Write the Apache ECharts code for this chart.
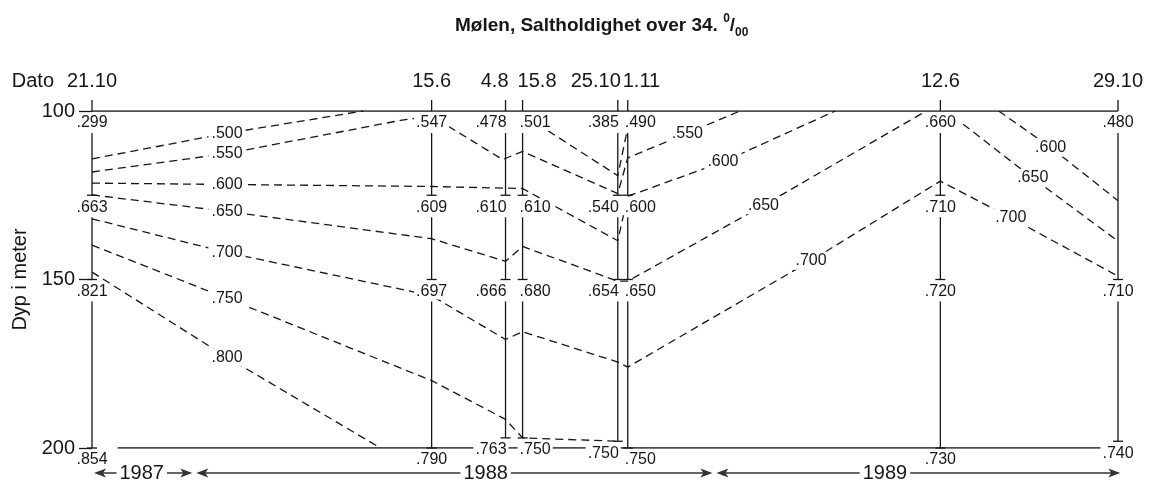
<!DOCTYPE html>
<html><head><meta charset="utf-8">
<script src="https://cdn.jsdelivr.net/npm/echarts@6/dist/echarts.min.js"></script>
<style>html,body{margin:0;padding:0;background:#fff}#c{width:1149px;height:488px}</style>
</head><body><div id="c"></div>
<script>
// ---- DATA ----
// Sampling dates and their position along the drawn time axis (days after 21.10.1987, as drawn)
const stationDates = ['21.10', '15.6', '4.8', '15.8', '25.10', '1.11', '12.6', '29.10'];
const stationPos   = [0, 239, 291, 303, 370, 377, 597, 722];
// Sampling depths (m) at each date
const stationDepths = [
  [100, 125, 150, 200],
  [100, 125, 150, 200],
  [100, 125, 150, 197],
  [100, 125, 150, 197],
  [100, 125, 150, 198],
  [100, 125, 150, 200],
  [100, 125, 150, 200],
  [100, 150, 198]
];
// Salinity above 34 per mille at those depths
const stationValues = [
  [0.299, 0.663, 0.821, 0.854],
  [0.547, 0.609, 0.697, 0.790],
  [0.478, 0.610, 0.666, 0.763],
  [0.501, 0.610, 0.680, 0.750],
  [0.385, 0.540, 0.654, 0.750],
  [0.490, 0.600, 0.650, 0.750],
  [0.660, 0.710, 0.720, 0.730],
  [0.480, 0.710, 0.740]
];
// Isolines [time position, depth]
const iso500a = [[0,114.2],[95,106.6],[191,100]];
const iso500b = [[321,105.9],[370,119.2],[377,105]];
const iso550  = [[0,118.1],[95,112.6],[217,102.8],[239,101.5],[289,114.4],[303,112],[370,124.5],[377,113.9],[419,106.6],[456,100]];
const iso600a = [[0,121.4],[95,121.8],[239,122.4],[291,122.9],[303,123],[370,138.5],[377,125.3],[444,115.1],[523,100]];
const iso600b = [[638,100],[674.6,110.8],[722,126.6]];
const iso650a = [[0,124.9],[95,129.8],[239,137.9],[291,144.6],[303,140.2],[370,150.5],[377,150.5],[472.5,128],[587,100]];
const iso650b = [[613,103.9],[662,119.9],[722,138.6]];
const iso700  = [[0,132],[95,142],[239,154.8],[291,167.8],[303,165.5],[370,174.5],[377,176],[506,144.4],[597,120.8],[646.5,131.7],[722,149]];
const iso750  = [[0,139.8],[95,155.6],[239,180],[291,191.5],[303,197],[370,198]];
const iso800  = [[0,147.8],[95,173.1],[203,200]];
// which vertices carry the isoline's label
const isolines = [
  {value: 0.500, points: iso500a, labelAt: [1]},
  {value: 0.500, points: iso500b, labelAt: []},
  {value: 0.550, points: iso550,  labelAt: [1, 8]},
  {value: 0.600, points: iso600a, labelAt: [1, 7]},
  {value: 0.600, points: iso600b, labelAt: [1]},
  {value: 0.650, points: iso650a, labelAt: [1, 7]},
  {value: 0.650, points: iso650b, labelAt: [1]},
  {value: 0.700, points: iso700,  labelAt: [1, 7, 9]},
  {value: 0.750, points: iso750,  labelAt: [1]},
  {value: 0.800, points: iso800,  labelAt: [1]}
];
// Year spans along the time axis
const years = ['1987', '1988', '1989'];
const yearBounds = [0, 72, 438, 725];
const yearLabelPos = [35, 277, 558];
const bottomLineSpan = [18, 715];
const depthTicks = [100, 150, 200];

// ---- STYLE ----
const INK = '#161616';
const FONT = '"Liberation Sans", Arial, Helvetica, sans-serif';
const fmt = v => v.toFixed(3).replace(/^0/, '');

const chart = echarts.init(document.getElementById('c'), null, {renderer: 'canvas'});

const series = [];
isolines.forEach(l => {
  series.push({
    type: 'line', data: l.points, symbol: 'none', silent: true, z: 2,
    lineStyle: {color: INK, width: 1.3, type: [8, 5]}
  });
});
// frame lines (depth 100 and 200)
series.push({type: 'line', data: [[stationPos[0], 100], [stationPos[stationPos.length - 1], 100]], symbol: 'none', z: 3,
  lineStyle: {color: INK, width: 1.4}});
series.push({type: 'line', data: [[bottomLineSpan[0], 200], [bottomLineSpan[1], 200]], symbol: 'none', z: 3,
  lineStyle: {color: INK, width: 1.4}});

// isoline labels
const isoLabelData = [];
isolines.forEach(l => l.labelAt.forEach(i => isoLabelData.push([l.points[i][0], l.points[i][1], l.value])));
series.push({
  type: 'custom', z: 6, data: isoLabelData,
  renderItem: (p, api) => {
    const c = api.coord([api.value(0), api.value(1)]);
    return {type: 'text', style: {text: fmt(api.value(2)), x: c[0], y: c[1], align: 'center', verticalAlign: 'middle',
      font: '16px ' + FONT, fill: INK, backgroundColor: '#fff', padding: [1, 3]}};
  }
});

// stations
series.push({
  type: 'custom', z: 5, data: stationPos.map((x, i) => [x, i]),
  renderItem: (params, api) => {
    const i = params.dataIndex;
    const sx = stationPos[i];
    const x = api.coord([sx, 100])[0];
    const yTop = api.coord([sx, 100])[1];
    const prevClose = i > 0 && sx - stationPos[i - 1] < 20;
    const nextClose = i < stationPos.length - 1 && stationPos[i + 1] - sx < 20;
    let align = 'center', dx = 0;
    if (nextClose) { align = 'right'; dx = 3; }
    else if (prevClose) { align = 'left'; dx = -5; }
    const ls = {stroke: INK, lineWidth: 1.3};
    const ch = [];
    ch.push({type: 'line', shape: {x1: x, y1: yTop - 11, x2: x, y2: yTop}, style: ls});
    ch.push({type: 'text', style: {text: stationDates[i], x: x + dx, y: yTop - 30, align: align, verticalAlign: 'middle',
      font: '20px ' + FONT, fill: INK}});
    if (i === 0) ch.push({type: 'text', style: {text: 'Dato', x: x - 38, y: yTop - 30, align: 'right', verticalAlign: 'middle',
      font: '20px ' + FONT, fill: INK}});
    const ds = stationDepths[i];
    ds.forEach((d, k) => {
      const y = api.coord([sx, d])[1];
      if (k > 0) {
        const yp = api.coord([sx, ds[k - 1]])[1];
        ch.push({type: 'line', shape: {x1: x, y1: yp + 22, x2: x, y2: y}, style: ls});
        ch.push({type: 'line', shape: {x1: x - 5, y1: y, x2: x + 5, y2: y}, style: ls});
      }
    });
    ds.forEach((d, k) => {
      const y = api.coord([sx, d])[1];
      ch.push({type: 'text', z2: 10, style: {text: fmt(stationValues[i][k]), x: x + dx, y: y + 12, align: align, verticalAlign: 'middle',
        font: '16px ' + FONT, fill: INK, backgroundColor: '#fff', padding: [0, 2]}});
    });
    return {type: 'group', children: ch};
  }
});

// year arrows
series.push({
  type: 'custom', z: 5, data: [[0, 0]],
  renderItem: (params, api) => {
    const y = api.coord([0, 200])[1] + 25;
    const ch = [];
    const fillS = {fill: '#333'};
    years.forEach((yr, k) => {
      const x1 = api.coord([yearBounds[k], 200])[0] + 2;
      const x2 = api.coord([yearBounds[k + 1], 200])[0] - 2;
      ch.push({type: 'line', shape: {x1: x1 + 6, y1: y, x2: x2 - 6, y2: y}, style: {stroke: '#333', lineWidth: 1.3}});
      ch.push({type: 'polygon', shape: {points: [[x1, y], [x1 + 12, y - 4.5], [x1 + 9, y], [x1 + 12, y + 4.5]]}, style: fillS});
      ch.push({type: 'polygon', shape: {points: [[x2, y], [x2 - 12, y - 4.5], [x2 - 9, y], [x2 - 12, y + 4.5]]}, style: fillS});
      const lx = api.coord([yearLabelPos[k], 200])[0];
      ch.push({type: 'text', style: {text: yr, x: lx, y: y, align: 'center', verticalAlign: 'middle',
        font: '20px ' + FONT, fill: INK, backgroundColor: '#fff', padding: [0, 3]}});
    });
    return {type: 'group', children: ch};
  }
});

chart.setOption({
  animation: false,
  backgroundColor: '#fff',
  title: {
    text: 'Mølen, Saltholdighet over 34. {sup|0}/{sub|00}',
    left: 450, top: 8,
    textStyle: {fontFamily: FONT, fontSize: 19, fontWeight: 'bold', color: INK, lineHeight: 26,
      rich: {
        sup: {fontFamily: FONT, fontSize: 12, fontWeight: 'bold', color: INK, verticalAlign: 'top', lineHeight: 26},
        sub: {fontFamily: FONT, fontSize: 12, fontWeight: 'bold', color: INK, verticalAlign: 'bottom', lineHeight: 26}
      }}
  },
  grid: {left: 92, width: 1026, top: 111, height: 337, containLabel: false},
  xAxis: {type: 'value', min: 0, max: 722, show: false},
  yAxis: {
    type: 'value', inverse: true, min: depthTicks[0], max: depthTicks[depthTicks.length - 1], interval: 50,
    axisLine: {show: false}, splitLine: {show: false},
    axisTick: {show: true, length: 13, lineStyle: {color: INK, width: 1.3}},
    axisLabel: {margin: 17, fontSize: 20, fontFamily: FONT, color: INK},
    name: 'Dyp i meter', nameLocation: 'middle', nameGap: 62, nameRotate: 90,
    nameTextStyle: {fontSize: 20, fontFamily: FONT, color: INK}
  },
  series: series
});
</script></body></html>
